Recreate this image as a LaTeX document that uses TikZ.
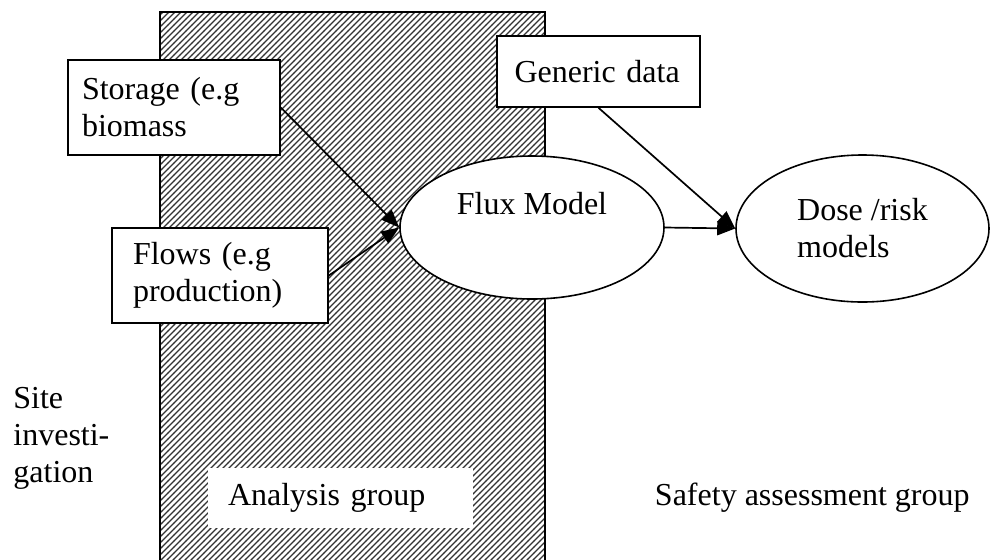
\documentclass[tikz,border=0pt]{standalone}
\usepackage{fontspec}
\setmainfont{Liberation Serif}
\usetikzlibrary{shapes.geometric,patterns,arrows.meta}
\pgfdeclarepatternformonly{hatch}{\pgfqpoint{-1pt}{-1pt}}{\pgfqpoint{4pt}{4pt}}{\pgfqpoint{3pt}{3pt}}{
  \pgfsetlinewidth{0.65pt}
  \pgfsetroundcap
  \pgfpathmoveto{\pgfqpoint{0pt}{0pt}}
  \pgfpathlineto{\pgfqpoint{3.1pt}{3.1pt}}
  \pgfusepath{stroke}
}

\begin{document}
\begin{tikzpicture}[x=0.5pt, y=-0.5pt,
    font=\fontsize{16}{18.5}\selectfont,
    box/.style={draw, fill=white, line width=0.8pt, align=left, inner ysep=0pt},
    model/.style={draw, fill=white, ellipse, line width=0.8pt, inner sep=0pt},
    arr/.style={-{Triangle[length=9pt,width=7pt]}, line width=0.85pt}]
    \useasboundingbox (0,0) rectangle (991,559);
    \begin{scope}
        \clip (0,0) rectangle (991,559);
        \draw[line width=0.8pt, pattern=hatch, pattern color=black!80] (160,12) rectangle (545,570);
    \end{scope}

    \node[box, minimum width=106pt, minimum height=47.5pt, text width=92pt, inner xsep=7pt] (store) at (174,107.5) {Storage (e.g\\biomass};
    \node[box, minimum width=108pt, minimum height=47.5pt, text width=87pt, inner xsep=10.5pt] (flows) at (220,275.5) {Flows (e.g\\production)};
    \node[box, minimum width=101.5pt, minimum height=35.5pt, text width=84pt, inner xsep=8.75pt] (generic) at (598.5,71.5) {Generic data};
    \node[model, minimum width=132pt, minimum height=71.5pt, align=center] (flux) at (532,227.5) {Flux Model\\\strut};
    \node[model, minimum width=126.5pt, minimum height=73.5pt, align=left] (dose) at (862.5,228.5) {Dose /risk\\models};

    \node[fill=white, minimum width=132.5pt, minimum height=30pt, text width=112.5pt, inner xsep=10pt, inner ysep=0pt, align=left] (analysis) at (340.5,498) {Analysis group};
    \node[anchor=west, align=left, inner sep=0pt] (site) at (13,438.5) {Site\\investi-\\gation};
    \node[anchor=base east, inner sep=0pt] (safety) at (970,505) {Safety assessment group};

    \draw[arr] (store.east) -- (flux.west);
    \draw[arr] (flows.east) -- (flux.west);
    \draw[arr] (generic.south) -- (dose.west);
    \draw[arr] (flux.east) -- (dose.west);
\end{tikzpicture}
\end{document}
